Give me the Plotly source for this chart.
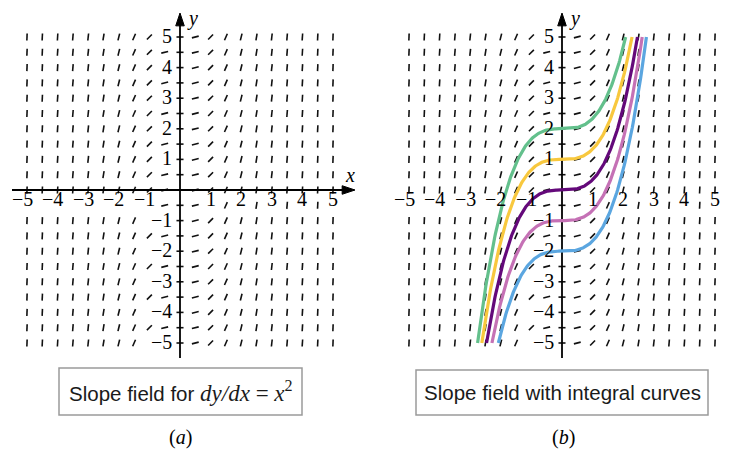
import math
import plotly.graph_objects as go

# ---------------- data ----------------
grid_values = [i / 2 for i in range(-10, 11)]          # slope-field sample points (x and y)
tick_values = [-5, -4, -3, -2, -1, 1, 2, 3, 4, 5]      # labelled integers on both axes
curve_constants = [2, 1, 0, -1, -2]                      # integral curves y = x^3/3 + C
curve_colors = ["#63c08c", "#f8c83e", "#64097a", "#c571b5", "#5ba6e0"]
caption_a = ("Slope field for <span style='font-family:Liberation Serif;font-size:23px'><i>dy/dx</i>"
             " = <i>x</i><sup>2</sup></span>")
caption_b = "Slope field with integral curves"
panel_labels = ["(<i>a</i>)", "(<i>b</i>)"]

# ---------------- geometry (reference pixel coords) ----------------
VW, VH = 730, 451             # browser window
OFF = 8                       # default body margin of the html page
W, H = VW - OFF, VH - OFF     # figure size
U = 30.6                      # pixels per unit
X0 = [180, 562]               # pixel of x=0 for each panel
Y0 = 190                      # pixel of y=0
SPLIT = 370

def px(x):
    return (x - OFF) / W

def py(y):
    return 1 - (y - OFF) / H

def slope(x):
    return x * x

def skip(x, y):
    if y == -0.5 and (x <= -1 or (x >= 1 and float(x).is_integer())):
        return True
    if float(y).is_integer() and y != 0 and x == -0.5:
        return True
    if float(y).is_integer() and y < 0 and x == -1:
        return True
    return False

fig = go.Figure()
HALF = 0.115
NUM_FONT = dict(family="Liberation Serif, Times New Roman, serif", size=20, color="black")

for p in range(2):
    xa = "x" if p == 0 else "x2"
    ya = "y" if p == 0 else "y2"
    sx, sy = [], []
    for x in grid_values:
        for y in grid_values:
            if skip(x, y):
                continue
            m = slope(x)
            n = math.hypot(1, m)
            dx, dy = HALF / n, HALF * m / n
            sx += [x - dx, x + dx, None]
            sy += [y - dy, y + dy, None]
    fig.add_trace(go.Scatter(x=sx, y=sy, mode="lines", xaxis=xa, yaxis=ya,
                             line=dict(color="#111111", width=1.6),
                             hoverinfo="skip", showlegend=False))
    # axes lines
    xl, xr = (12 - X0[p]) / U, (355 - X0[p]) / U
    yb, yt = (Y0 - 358) / U, (Y0 - 13) / U
    fig.add_trace(go.Scatter(x=[xl, xr - 0.3, None, 0, 0], y=[0, 0, None, yb, yt - 0.3],
                             mode="lines", xaxis=xa, yaxis=ya,
                             line=dict(color="black", width=1.8),
                             hoverinfo="skip", showlegend=False))
    # arrow heads
    hl, hw = 0.42, 0.14
    fig.add_trace(go.Scatter(x=[xr, xr - hl, xr - hl, xr], y=[0, hw, -hw, 0],
                             mode="lines", fill="toself", fillcolor="black",
                             xaxis=xa, yaxis=ya, line=dict(color="black", width=1),
                             hoverinfo="skip", showlegend=False))
    fig.add_trace(go.Scatter(x=[0, hw, -hw, 0], y=[yt, yt - hl, yt - hl, yt],
                             mode="lines", fill="toself", fillcolor="black",
                             xaxis=xa, yaxis=ya, line=dict(color="black", width=1),
                             hoverinfo="skip", showlegend=False))
    # tick labels
    for t in tick_values:
        lab = ("\u2212" + str(-t)) if t < 0 else str(t)
        fig.add_annotation(x=t, y=-0.3, xref=xa, yref=ya, text=lab, showarrow=False,
                           xanchor="center", yanchor="middle", xshift=-5 if t < 0 else 0,
                           font=NUM_FONT)
        fig.add_annotation(x=-0.18, y=t, xref=xa, yref=ya, text=lab, showarrow=False,
                           xanchor="right", yanchor="middle", yshift=1,
                           font=NUM_FONT)
    fig.add_annotation(x=0.42, y=(Y0 - 18) / U, xref=xa, yref=ya, text="<i>y</i>", showarrow=False,
                       xanchor="center", yanchor="middle", font=NUM_FONT)
    fig.add_annotation(x=5.55, y=0.5, xref=xa, yref=ya, text="<i>x</i>", showarrow=False,
                       xanchor="center", yanchor="middle", font=NUM_FONT)

# integral curves on panel b
for c, col in zip(curve_constants, curve_colors):
    lo = math.copysign(abs(3 * (-5 - c)) ** (1 / 3), -5 - c)
    hi = math.copysign(abs(3 * (5 - c)) ** (1 / 3), 5 - c)
    n = 200
    xs = [lo + (hi - lo) * i / n for i in range(n + 1)]
    ys = [x ** 3 / 3 + c for x in xs]
    fig.add_trace(go.Scatter(x=xs, y=ys, mode="lines", xaxis="x2", yaxis="y2",
                             line=dict(color=col, width=3.2),
                             hoverinfo="skip", showlegend=False))

# caption boxes
boxes = [(59, 368, 302, 415), (416, 370, 708, 415)]
for (x1, y1, x2, y2), txt in zip(boxes, [caption_a, caption_b]):
    fig.add_shape(type="rect", xref="paper", yref="paper",
                  x0=px(x1), x1=px(x2), y0=py(y2), y1=py(y1),
                  line=dict(color="#9a9a9a", width=1.5), fillcolor="white")
    fig.add_annotation(x=px((x1 + x2) / 2), y=py((y1 + y2) / 2), xref="paper", yref="paper",
                       text=txt, showarrow=False, xanchor="center", yanchor="middle",
                       font=dict(family="Liberation Sans, Arial, sans-serif", size=20.5, color="#1a1a1a"))
for cx, lab in zip([180, 563], panel_labels):
    fig.add_annotation(x=px(cx), y=py(437), xref="paper", yref="paper",
                       text=lab, showarrow=False, xanchor="center", yanchor="middle",
                       font=dict(family="Liberation Serif, serif", size=20, color="black"))

yr = [-(VH - Y0) / U, (Y0 - OFF) / U]
fig.update_layout(
    width=W, height=H, margin=dict(l=0, r=0, t=0, b=0),
    paper_bgcolor="white", plot_bgcolor="white",
    xaxis=dict(domain=[0, px(SPLIT)], range=[(OFF - X0[0]) / U, (SPLIT - X0[0]) / U],
               visible=False, fixedrange=True),
    yaxis=dict(domain=[0, 1], range=yr, visible=False, fixedrange=True),
    xaxis2=dict(domain=[px(SPLIT), 1], range=[(SPLIT - X0[1]) / U, (VW - X0[1]) / U],
                visible=False, fixedrange=True),
    yaxis2=dict(domain=[0, 1], range=yr, anchor="x2", visible=False, fixedrange=True),
)
fig.write_html("out.html")
